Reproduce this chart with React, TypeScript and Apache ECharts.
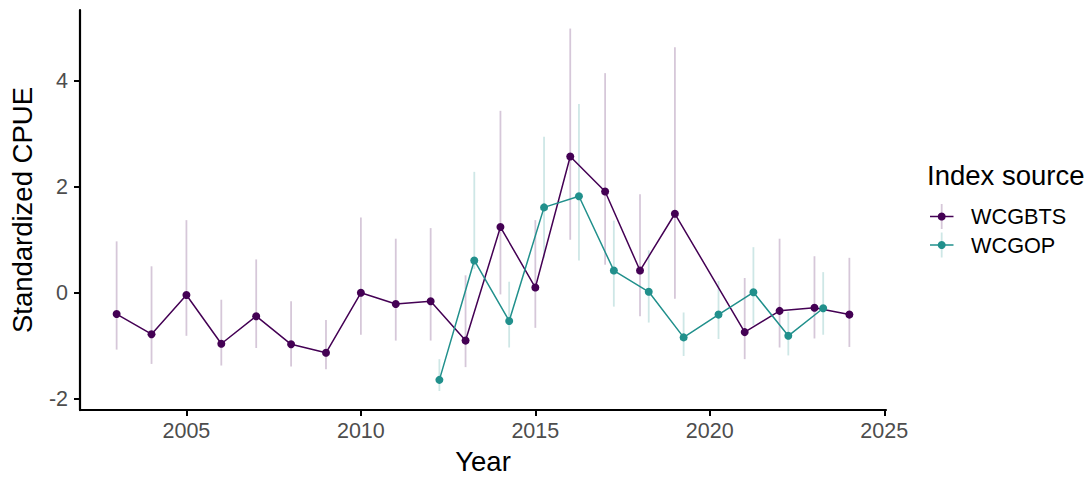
import React, { useEffect, useRef } from "react";
import * as echarts from "echarts";

const yearsBTS = [2003, 2004, 2005, 2006, 2007, 2008, 2009, 2010, 2011, 2012, 2013, 2014, 2015, 2016, 2017, 2018, 2019, 2021, 2022, 2023, 2024];
const cpueBTS = [-0.40, -0.78, -0.04, -0.96, -0.44, -0.97, -1.13, 0.00, -0.21, -0.16, -0.90, 1.24, 0.10, 2.57, 1.91, 0.42, 1.49, -0.74, -0.34, -0.28, -0.41];
const loBTS = [-1.07, -1.34, -0.81, -1.37, -1.04, -1.39, -1.44, -0.79, -0.90, -0.90, -1.40, -0.03, -0.66, 1.00, 0.53, -0.44, -0.11, -1.25, -1.03, -0.86, -1.02];
const hiBTS = [0.97, 0.50, 1.37, -0.13, 0.63, -0.16, -0.51, 1.42, 1.02, 1.22, 0.33, 3.43, 1.37, 4.98, 4.14, 1.86, 4.63, 0.28, 1.02, 0.69, 0.66];

const yearsOP = [2012, 2013, 2014, 2015, 2016, 2017, 2018, 2019, 2020, 2021, 2022, 2023];
const cpueOP = [-1.64, 0.61, -0.53, 1.61, 1.82, 0.42, 0.02, -0.84, -0.41, 0.01, -0.81, -0.29];
const loOP = [-1.85, 0.45, -1.03, 0.65, 0.61, -0.26, -0.56, -1.19, -0.87, -0.61, -1.18, -0.79];
const hiOP = [-1.25, 2.28, 0.21, 2.94, 3.56, 1.36, 0.80, -0.37, 0.22, 0.86, -0.36, 0.39];
const dodgeOP = 0.25;

const xTicks = [2005, 2010, 2015, 2020, 2025];
const yTicks = [-2, 0, 2, 4];
const seriesNames = ["WCGBTS", "WCGOP"];
const colors = ["#440154", "#21908C"];
const barColors = ["rgba(68,1,84,0.22)", "rgba(33,144,140,0.22)"];

const FONT = "Arial, 'Liberation Sans', sans-serif";

export default function App() {
  const ref = useRef<HTMLDivElement>(null);
  useEffect(() => {
    if (!ref.current) return;
    document.body.style.margin = "0";
    document.body.style.overflow = "hidden";
    const chart = echarts.init(ref.current, null, { renderer: "svg" });

    const btsLine = yearsBTS.map((y, i) => [y, cpueBTS[i]]);
    const btsBars = yearsBTS.map((y, i) => [y, loBTS[i], hiBTS[i]]);
    const opLine = yearsOP.map((y, i) => [y + dodgeOP, cpueOP[i]]);
    const opBars = yearsOP.map((y, i) => [y + dodgeOP, loOP[i], hiOP[i]]);

    const errRender = (color: string) => (params: any, api: any) => {
      const x = api.value(0);
      const p1 = api.coord([x, api.value(1)]);
      const p2 = api.coord([x, api.value(2)]);
      return {
        type: "line",
        shape: { x1: p1[0], y1: p1[1], x2: p2[0], y2: p2[1] },
        style: { stroke: color, lineWidth: 1.8 },
      };
    };

    const legendItems: any[] = [];
    seriesNames.forEach((name, i) => {
      const cy = 216.5 + i * 28.5;
      legendItems.push(
        { type: "line", shape: { x1: 941.7, y1: cy - 12.5, x2: 941.7, y2: cy + 12.5 }, style: { stroke: barColors[i], lineWidth: 1.8 } },
        { type: "line", shape: { x1: 930, y1: cy, x2: 953.5, y2: cy }, style: { stroke: colors[i], lineWidth: 1.5 } },
        { type: "circle", shape: { cx: 941.7, cy, r: 4 }, style: { fill: colors[i] } },
        { type: "text", x: 971, y: cy, style: { text: name, font: `21.7px ${FONT}`, fill: "#000", verticalAlign: "middle", align: "left" } }
      );
    });

    chart.setOption({
      animation: false,
      grid: { left: 78, right: 205, top: 10, bottom: 67.7, containLabel: false },
      xAxis: {
        type: "value",
        min: 2001.95,
        max: 2025.05,
        name: "Year",
        nameLocation: "middle",
        nameGap: 35,
        nameTextStyle: { fontSize: 27.5, color: "#000", fontFamily: FONT },
        axisLine: { show: true, onZero: false, lineStyle: { color: "#000", width: 2.2 } },
        axisTick: { show: true, length: 6, lineStyle: { color: "#000", width: 2 }, customValues: xTicks },
        axisLabel: { fontSize: 21.5, color: "#4D4D4D", fontFamily: FONT, margin: 10, customValues: xTicks, formatter: (v: number) => String(v) },
        splitLine: { show: false },
      },
      yAxis: {
        type: "value",
        min: -2.21,
        max: 5.33,
        name: "Standardized CPUE",
        nameLocation: "middle",
        nameGap: 44,
        nameRotate: 90,
        nameTextStyle: { fontSize: 27.5, color: "#000", fontFamily: FONT },
        axisLine: { show: true, onZero: false, lineStyle: { color: "#000", width: 2.2 } },
        axisTick: { show: true, length: 6, lineStyle: { color: "#000", width: 2 }, customValues: yTicks },
        axisLabel: { fontSize: 21.5, color: "#4D4D4D", fontFamily: FONT, margin: 12, customValues: yTicks, formatter: (v: number) => String(v) },
        splitLine: { show: false },
      },
      series: [
        { type: "custom", name: "WCGBTS bars", data: btsBars, encode: { x: 0, y: [1, 2] }, renderItem: errRender(barColors[0]), z: 1, silent: true },
        { type: "custom", name: "WCGOP bars", data: opBars, encode: { x: 0, y: [1, 2] }, renderItem: errRender(barColors[1]), z: 1, silent: true },
        { type: "line", name: seriesNames[0], data: btsLine, symbol: "circle", symbolSize: 8, itemStyle: { color: colors[0] }, lineStyle: { color: colors[0], width: 1.5 }, z: 2 },
        { type: "line", name: seriesNames[1], data: opLine, symbol: "circle", symbolSize: 8, itemStyle: { color: colors[1] }, lineStyle: { color: colors[1], width: 1.5 }, z: 2 },
      ],
      graphic: [
        { type: "text", x: 927, y: 175, style: { text: "Index source", font: `27.5px ${FONT}`, fill: "#000", verticalAlign: "middle", align: "left" } },
        ...legendItems,
      ],
    });
    return () => chart.dispose();
  }, []);
  return <div ref={ref} style={{ position: "absolute", left: 0, top: 0, width: 1091, height: 480 }} />;
}
